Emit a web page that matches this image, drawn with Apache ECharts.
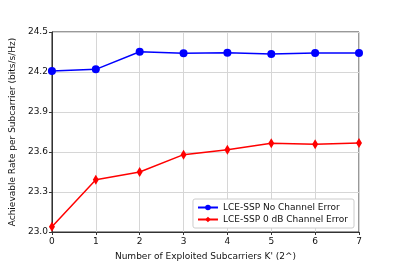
<!DOCTYPE html>
<html><head><meta charset="utf-8">
<script src="https://cdn.jsdelivr.net/npm/echarts@6/dist/echarts.min.js"></script>
<style>html,body{margin:0;padding:0;background:#fff}#c{width:399px;height:266px}</style>
</head><body><div id="c"></div>
<script>
const categories = [0, 1, 2, 3, 4, 5, 6, 7];
const noError = [24.207, 24.22, 24.352, 24.34, 24.345, 24.335, 24.343, 24.343];
const chanError = [23.04, 23.392, 23.45, 23.58, 23.617, 23.665, 23.658, 23.667];
const yTicks = [23.0, 23.3, 23.6, 23.9, 24.2, 24.5];
const seriesNames = ['LCE-SSP No Channel Error', 'LCE-SSP 0 dB Channel Error'];

const chart = echarts.init(document.getElementById('c'));
const font = 'DejaVu Sans';
chart.setOption({
  animation: false,
  grid: {left: 49.5, right: 40, top: 32, bottom: 33.5, show: true, borderColor: '#333', borderWidth: 1},
  xAxis: {
    type: 'value', min: 0, max: 7, interval: 1,
    name: "Number of Exploited Subcarriers K' (2^)", nameLocation: 'middle', nameGap: 20,
    nameTextStyle: {fontFamily: font, fontSize: 9, color: '#111'},
    axisLine: {show: true, lineStyle: {color: '#333'}},
    axisTick: {show: true, length: 3, lineStyle: {color: '#333'}},
    axisLabel: {fontFamily: font, fontSize: 9, color: '#111', margin: 5},
    splitLine: {show: true, lineStyle: {color: '#d6d6d6', width: 1}}
  },
  yAxis: {
    type: 'value', min: yTicks[0], max: yTicks[yTicks.length-1], interval: 0.3,
    name: 'Achievable Rate per Subcarrier (bits/s/Hz)', nameLocation: 'middle', nameGap: 33,
    nameTextStyle: {fontFamily: font, fontSize: 9, color: '#111'},
    axisLine: {show: true, lineStyle: {color: '#333'}},
    axisTick: {show: true, length: 3, lineStyle: {color: '#333'}},
    axisLabel: {fontFamily: font, fontSize: 9, color: '#111', margin: 4, formatter: v => v.toFixed(1)},
    splitLine: {show: true, lineStyle: {color: '#d6d6d6', width: 1}}
  },
  legend: {
    right: 45, bottom: 38, orient: 'vertical', itemGap: 3,
    padding: [4, 6, 4, 4],
    borderColor: '#ccc', borderWidth: 1, borderRadius: 2, backgroundColor: '#fff',
    itemWidth: 20, itemHeight: 7,
    textStyle: {fontFamily: font, fontSize: 9, color: '#111'},
    data: seriesNames
  },
  series: [
    {name: seriesNames[0], type: 'line', data: categories.map((x,i)=>[x, noError[i]]),
     color: '#0000ff', lineStyle: {width: 1.5}, symbol: 'circle', symbolSize: 8,
     itemStyle: {color: '#0000ff'}, clip: false},
    {name: seriesNames[1], type: 'line', data: categories.map((x,i)=>[x, chanError[i]]),
     color: '#ff0000', lineStyle: {width: 1.5}, symbol: 'diamond', symbolSize: [6, 10],
     itemStyle: {color: '#ff0000'}, clip: false}
  ]
});
</script></body></html>
